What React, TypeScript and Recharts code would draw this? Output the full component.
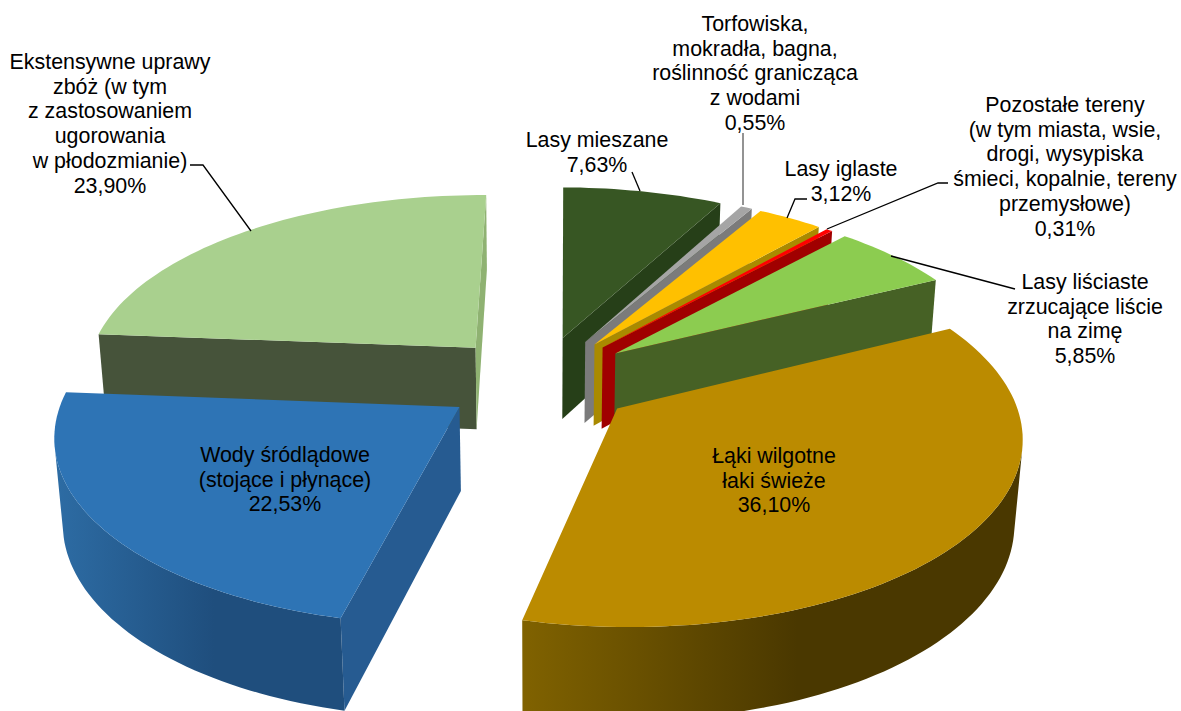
import { Pie, PieChart } from "recharts";

// clockwise from the back-left slice, so that the paint order works out back to front
const names = [
  "Ekstensywne uprawy zbóż",
  "Lasy mieszane",
  "Torfowiska",
  "Lasy iglaste",
  "Pozostałe tereny",
  "Lasy liściaste",
  "Łąki wilgotne",
  "Wody śródlądowe",
];
const values = [23.9, 7.63, 0.55, 3.12, 0.31, 5.85, 36.1, 22.53];
const labelLines = [
  ["Ekstensywne uprawy", "zbóż (w tym", "z zastosowaniem", "ugorowania", "w płodozmianie)"],
  ["Lasy mieszane"],
  ["Torfowiska,", "mokradła, bagna,", "roślinność granicząca", "z wodami"],
  ["Lasy iglaste"],
  ["Pozostałe tereny", "(w tym miasta, wsie,", "drogi, wysypiska", "śmieci, kopalnie, tereny", "przemysłowe)"],
  ["Lasy liściaste", "zrzucające liście", "na zimę"],
  ["Łąki wilgotne", "łaki świeże"],
  ["Wody śródlądowe", "(stojące i płynące)"],
];

const topColors = ["#a9d08e", "#375623", "#a5a5a5", "#ffc000", "#ff0000", "#8ccc50", "#bb8b00", "#2e74b5"];
const startSideColors = ["#46533a", "#263f18", "#7b7b7b", "#a98a00", "#a00000", "#466125", "#7a5c00", "#265b91"];
const endSideColors = ["#8fb272", "#263f18", "#7b7b7b", "#a98a00", "#a00000", "#466125", "#7a5c00", "#265b91"];
const wallShades = [
  ["#46533a", "#46533a"],
  ["#263f18", "#263f18"],
  ["#7b7b7b", "#7b7b7b"],
  ["#a98a00", "#a98a00"],
  ["#a00000", "#a00000"],
  ["#466125", "#466125"],
  ["#806200", "#4a3800"],
  ["#2d6ca4", "#1f4e7d"],
];

// label placement: centre x, first baseline y
const labelSpots = [
  [110, 69], [597, 147], [755, 31], [841, 176], [1065, 112], [1085, 289], [774, 463], [285, 462],
];
const leaders = [
  { d: "M190,165 L203,165 L251,231", color: "#000" },
  { d: "M632,172 L640,191", color: "#000" },
  { d: "M743,133 L743,205", color: "#595959" },
  { d: "M807,199 L795,199 L787,218", color: "#000" },
  { d: "M948,183 L938,183 L827,229", color: "#000" },
  { d: "M891,256 L1015,289", color: "#000" },
  null,
  null,
];

const WIDTH = 1181;
const HEIGHT = 711;
const CX = 539.5;
const CY = 380;
const RADIUS = 392;
const THICK = 95;
const EXPLODE = 97;
const SIN_E = 0.462;
const COS_E = Math.sqrt(1 - SIN_E * SIN_E);
const CAM = 2600;
const LINE_H = 24.7;
const FONT = "'Liberation Sans', Arial, sans-serif";

const rad = (a: number) => (a * Math.PI) / 180;

function project(u: number, v: number, z: number): [number, number] {
  const d = CAM + v * COS_E - z * SIN_E;
  const s = CAM / d;
  return [CX + u * s, CY - (v * SIN_E + z * COS_E) * s];
}

function facesCamera(nx: number, ny: number, px: number, py: number) {
  return nx * -px + ny * (-CAM * COS_E - py) > 0;
}

const toPath = (pts: [number, number][]) =>
  "M" + pts.map((p) => p[0].toFixed(1) + "," + p[1].toFixed(1)).join(" L") + " Z";

function Slice3D(props: any) {
  const { startAngle, endAngle, outerRadius, index } = props;
  const mid = rad((startAngle + endAngle) / 2);
  const ox = EXPLODE * Math.cos(mid);
  const oy = EXPLODE * Math.sin(mid);
  const rim = (deg: number, z: number): [number, number] =>
    project(ox + outerRadius * Math.cos(rad(deg)), oy + outerRadius * Math.sin(rad(deg)), z);
  const apex = (z: number) => project(ox, oy, z);

  const steps = Math.max(2, Math.ceil(Math.abs(startAngle - endAngle) / 1.5));
  const angles: number[] = [];
  for (let i = 0; i <= steps; i++) angles.push(startAngle + ((endAngle - startAngle) * i) / steps);

  const top: [number, number][] = [apex(0), ...angles.map((a) => rim(a, 0))];

  const faces: { d: string; fill: string }[] = [];
  const radial = (deg: number, sign: number, fill: string) => {
    const a = rad(deg);
    if (!facesCamera(-sign * Math.sin(a), sign * Math.cos(a), ox, oy)) return;
    faces.push({ d: toPath([apex(0), rim(deg, 0), rim(deg, -THICK), apex(-THICK)]), fill });
  };
  radial(startAngle, 1, startSideColors[index]);
  radial(endAngle, -1, endSideColors[index]);

  const seen = angles.filter((deg) => {
    const a = rad(deg);
    const rx = ox + outerRadius * Math.cos(a);
    const ry = oy + outerRadius * Math.sin(a);
    return facesCamera(Math.cos(a), Math.sin(a), rx, ry);
  });
  const gradId = "wall" + index;
  let wall = null;
  let x1 = 0;
  let x2 = 1;
  if (seen.length > 1) {
    const poly = [...seen.map((a) => rim(a, 0)), ...seen.slice().reverse().map((a) => rim(a, -THICK))];
    const xs = poly.map((p) => p[0]);
    x1 = Math.min(...xs);
    x2 = Math.max(...xs);
    wall = toPath(poly);
  }

  return (
    <g>
      <defs>
        <linearGradient id={gradId} gradientUnits="userSpaceOnUse" x1={x1} x2={x2} y1={0} y2={0}>
          <stop offset="0%" stopColor={wallShades[index][0]} />
          <stop offset="55%" stopColor={wallShades[index][1]} />
          <stop offset="100%" stopColor={wallShades[index][1]} />
        </linearGradient>
      </defs>
      {faces.map((f, i) => (
        <path key={i} d={f.d} fill={f.fill} />
      ))}
      {wall && <path d={wall} fill={`url(#${gradId})`} />}
      <path d={toPath(top)} fill={topColors[index]} />
    </g>
  );
}

function SliceLabel(props: any) {
  const { index } = props;
  const [x, y] = labelSpots[index];
  const lines = [...labelLines[index], values[index].toFixed(2).replace(".", ",") + "%"];
  const leader = leaders[index];
  return (
    <g>
      {leader && <path d={leader.d} fill="none" stroke={leader.color} strokeWidth={1.3} />}
      <text x={x} y={y} textAnchor="middle" fontFamily={FONT} fontSize={21.4} fill="#000">
        {lines.map((line, i) => (
          <tspan key={i} x={x} y={y + i * LINE_H}>
            {line}
          </tspan>
        ))}
      </text>
    </g>
  );
}

const tableData = names.map((name, i) => ({ name, value: values[i] }));

export default function App() {
  return (
    <div style={{ position: "absolute", left: 0, top: 0, width: WIDTH, height: HEIGHT, overflow: "hidden", background: "#fff" }}>
      <PieChart width={WIDTH} height={HEIGHT} margin={{ top: 0, right: 0, bottom: 0, left: 0 }}>
        <Pie
          data={tableData}
          dataKey="value"
          nameKey="name"
          cx={CX}
          cy={CY}
          innerRadius={0}
          outerRadius={RADIUS}
          startAngle={175.5}
          endAngle={-184.5}
          paddingAngle={0}
          stroke="none"
          isAnimationActive={false}
          rootTabIndex={-1}
          shape={Slice3D}
          inactiveShape={Slice3D}
          activeShape={Slice3D}
          labelLine={false}
          label={SliceLabel}
        />
      </PieChart>
    </div>
  );
}
